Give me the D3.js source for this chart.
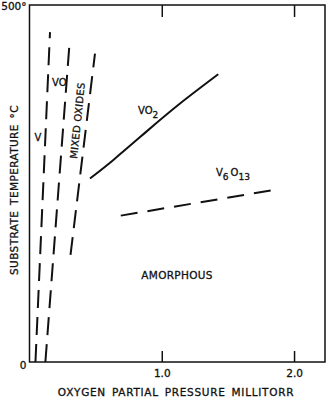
<!DOCTYPE html>
<html>
<head>
<meta charset="utf-8">
<script src="https://cdn.jsdelivr.net/npm/d3@7"></script>
<style>
  body { margin: 0; background: #fff; }
  svg { display: block; }
  text { font-family: 'DejaVu Sans', sans-serif; fill: #111; stroke: #111; stroke-width: 0.3px; }
</style>
</head>
<body>
<div id="chart"></div>
<script>
// phase boundaries, [pressure mTorr, temperature C]
const vBoundary = [[0.045, 0], [0.155, 462]];
const voBoundary = [[0.12, 0], [0.30, 440]];
const mixedBoundary = [[0.31, 150], [0.495, 432]];
const vo2Curve = [[0.457, 257], [0.634, 283], [0.886, 323], [1.138, 362], [1.427, 403]];
const v6o13Boundary = [[0.69, 205], [1.88, 242]];

const xTicks = [1.0, 2.0];
const yTicks = [0, 500];

const w = 330;
const h = 403;

const x = d3.scaleLinear().domain([0, 2.234]).range([29.5, 325]);
const y = d3.scaleLinear().domain([0, 500]).range([362, 5]);

const svg = d3.select('#chart')
  .append('svg')
  .attr('width', w)
  .attr('height', h);

// frame
svg.append('rect')
  .attr('x', x(0))
  .attr('y', y(500))
  .attr('width', x(2.234) - x(0))
  .attr('height', y(0) - y(500))
  .attr('fill', 'none')
  .attr('stroke', '#111')
  .attr('stroke-width', 1.5);

const xAxis = svg.append('g')
  .attr('transform', 'translate(0,' + y(0) + ')')
  .call(d3.axisBottom(x).tickValues(xTicks).tickSize(-11).tickPadding(8).tickFormat(d3.format('.1f')));
xAxis.select('.domain').remove();
xAxis.selectAll('line').attr('stroke', '#111').attr('stroke-width', 1.5);
xAxis.selectAll('text').attr('font-size', 10.5).attr('font-family', 'DejaVu Sans').attr('fill', '#111');

const topAxis = svg.append('g')
  .attr('transform', 'translate(0,' + y(500) + ')')
  .call(d3.axisTop(x).tickValues(xTicks).tickSize(-12).tickFormat(''));
topAxis.select('.domain').remove();
topAxis.selectAll('line').attr('stroke', '#111').attr('stroke-width', 1.5);

const yAxis = svg.append('g')
  .attr('transform', 'translate(' + x(0) + ',0)')
  .call(d3.axisLeft(y).tickValues(yTicks).tickSize(0).tickPadding(3)
    .tickFormat(d => d === 500 ? '500°' : '0'));
yAxis.select('.domain').remove();
yAxis.selectAll('text').attr('font-size', 10.5).attr('font-family', 'DejaVu Sans').attr('fill', '#111');
yAxis.selectAll('.tick').filter(d => d === 0).select('text').attr('dy', '0.6em');
yAxis.selectAll('.tick').filter(d => d === 500).select('text').attr('dy', '0.45em');

// axis titles
svg.append('text')
  .attr('x', 176)
  .attr('y', 396)
  .attr('text-anchor', 'middle')
  .attr('font-size', 10.5)
  .attr('letter-spacing', 0.7)
  .attr('word-spacing', 2)
  .text('OXYGEN PARTIAL PRESSURE MILLITORR');

svg.append('text')
  .attr('transform', 'translate(18,190) rotate(-90)')
  .attr('text-anchor', 'middle')
  .attr('font-size', 10.5)
  .attr('letter-spacing', 0.4)
  .attr('word-spacing', 2)
  .text('SUBSTRATE TEMPERATURE °C');

// boundaries
const line = d3.line().x(d => x(d[0])).y(d => y(d[1]));
const smooth = d3.line().x(d => x(d[0])).y(d => y(d[1])).curve(d3.curveNatural);

[vBoundary, voBoundary, mixedBoundary].forEach(b => {
  svg.append('path')
    .datum(b)
    .attr('d', line)
    .attr('fill', 'none')
    .attr('stroke', '#111')
    .attr('stroke-width', 2)
    .attr('stroke-dasharray', '18,9');
});

svg.append('path')
  .datum(v6o13Boundary)
  .attr('d', line)
  .attr('fill', 'none')
  .attr('stroke', '#111')
  .attr('stroke-width', 2)
  .attr('stroke-dasharray', '17,10');

svg.append('path')
  .datum(vo2Curve)
  .attr('d', smooth)
  .attr('fill', 'none')
  .attr('stroke', '#111')
  .attr('stroke-width', 2);

// region labels
svg.append('text')
  .attr('x', 38).attr('y', 141)
  .attr('text-anchor', 'middle')
  .attr('font-size', 10)
  .text('V');

svg.append('text')
  .attr('x', 52).attr('y', 86)
  .attr('font-size', 10)
  .text('VO');

svg.append('text')
  .attr('transform', 'translate(81,121) rotate(-84)')
  .attr('text-anchor', 'middle')
  .attr('font-size', 10)
  .attr('letter-spacing', 0.3)
  .text('MIXED OXIDES');

const vo2 = svg.append('text')
  .attr('x', 138).attr('y', 114)
  .attr('font-size', 10);
vo2.append('tspan').text('VO');
vo2.append('tspan').attr('dy', 4).attr('font-size', 9).text('2');

const v6 = svg.append('text')
  .attr('x', 216).attr('y', 176)
  .attr('font-size', 10);
v6.append('tspan').text('V');
v6.append('tspan').attr('dy', 4).attr('font-size', 9).text('6');
v6.append('tspan').attr('dy', -4).attr('dx', 2).text('O');
v6.append('tspan').attr('dy', 4).attr('font-size', 9).text('13');

svg.append('text')
  .attr('x', 177).attr('y', 279)
  .attr('text-anchor', 'middle')
  .attr('font-size', 10.5)
  .attr('letter-spacing', 0.3)
  .text('AMORPHOUS');
</script>
</body>
</html>
